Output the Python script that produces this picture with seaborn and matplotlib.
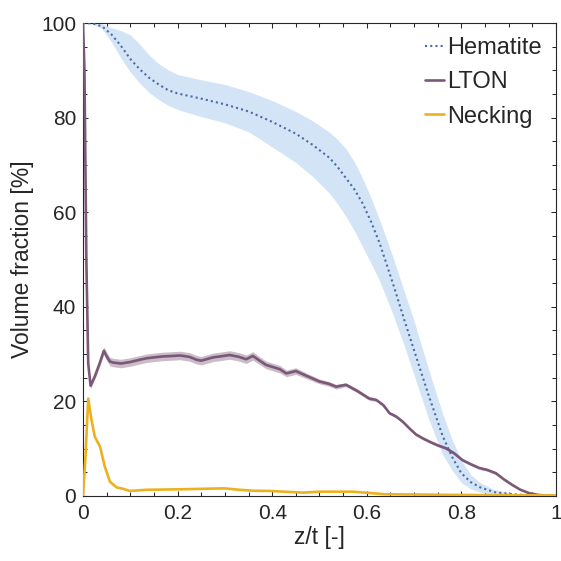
import numpy as np
import pandas as pd
import matplotlib
matplotlib.use("Agg")
import matplotlib.pyplot as plt
import seaborn as sns

# ---------------- data ----------------
hem_x = [0, 0.02, 0.04, 0.06, 0.08, 0.10, 0.12, 0.14, 0.16, 0.18, 0.20, 0.25, 0.30,
         0.35, 0.40, 0.45, 0.486, 0.521, 0.538, 0.556, 0.574, 0.591, 0.609, 0.627, 0.655,
         0.68, 0.70, 0.73, 0.76, 0.78, 0.80, 0.82, 0.84, 0.87, 0.91, 0.95, 1.0]
hem_mean = [100, 99.9, 99.3, 97.6, 95.2, 92.4, 90.2, 88.4, 87.0, 85.8, 85.1, 84.0, 82.8,
            81.3, 79.1, 76.6, 74.2, 71.5, 69.6, 67.2, 64.8, 61.9, 58.0, 53.5, 45.0,
            37.0, 30.8, 21.5, 12.8, 8.3, 4.8, 2.9, 1.8, 0.8, 0.35, 0.1, 0]
hem_upper = [100, 100, 99.8, 99.0, 98.4, 97.5, 95.5, 93.2, 91.4, 90.1, 89.1, 88.0, 87.0,
             85.5, 83.6, 81.3, 79.3, 76.9, 75.4, 73.4, 70.6, 67.2, 63.0, 58.4, 50.6,
             43.0, 37.0, 27.0, 17.5, 12.0, 7.5, 4.5, 2.8, 1.3, 0.5, 0.15, 0]
hem_lower = [100, 99.8, 98.8, 96.0, 92.6, 89.6, 87.3, 85.3, 83.8, 82.6, 81.7, 80.2, 78.9,
             77.0, 73.8, 70.5, 67.5, 64.0, 61.8, 59.1, 56.0, 52.7, 49.2, 45.5, 38.5,
             31.5, 25.5, 16.5, 8.8, 5.5, 2.8, 1.5, 0.8, 0.3, 0.15, 0.05, 0]

lton_x = [0, 0.003, 0.007, 0.011, 0.016, 0.025, 0.035, 0.044, 0.05, 0.057, 0.064, 0.08,
          0.099, 0.12, 0.134, 0.15, 0.169, 0.19, 0.205, 0.225, 0.24, 0.25, 0.275, 0.29,
          0.31, 0.33, 0.345, 0.359, 0.375, 0.387, 0.40, 0.416, 0.43, 0.45, 0.47, 0.50,
          0.52, 0.535, 0.556, 0.58, 0.605, 0.62, 0.635, 0.648, 0.662, 0.676, 0.69, 0.704,
          0.718, 0.732, 0.75, 0.767, 0.785, 0.802, 0.82, 0.838, 0.855, 0.873, 0.89, 0.908,
          0.925, 0.943, 0.96, 0.978, 1.0]
lton_mean = [100, 90, 50, 28, 23.3, 25.3, 28.0, 30.7, 29.5, 28.4, 28.2, 28.0,
             28.3, 28.8, 29.1, 29.3, 29.5, 29.6, 29.7, 29.4, 28.8, 28.6, 29.3, 29.5,
             29.8, 29.4, 28.9, 29.6, 28.5, 27.7, 27.3, 26.8, 25.9, 26.4, 25.5, 24.2,
             23.7, 23.1, 23.5, 22.2, 20.6, 20.3, 19.2, 17.5, 16.8, 15.7, 14.3, 13.0,
             12.2, 11.5, 10.7, 10.1, 9.0, 7.6, 6.7, 5.9, 5.5, 4.8, 3.5, 2.3,
             1.3, 0.6, 0.25, 0.07, 0]
lton_spread = [0, 0.5, 0.8, 0.8, 0.6, 0.6, 0.7, 0.8, 0.9, 0.9, 0.9, 0.9,
               0.9, 0.9, 0.9, 0.9, 0.9, 0.9, 0.9, 0.9, 0.9, 0.9, 0.9, 0.9,
               0.9, 0.9, 0.9, 0.9, 0.8, 0.8, 0.8, 0.8, 0.7, 0.7, 0.6, 0.5,
               0.5, 0.5, 0.4, 0.4, 0.4, 0.3, 0.3, 0.3, 0.3, 0.3, 0.3, 0.3,
               0.3, 0.3, 0.3, 0.3, 0.3, 0.3, 0.3, 0.3, 0.3, 0.3, 0.2, 0.2,
               0.1, 0.1, 0.05, 0.02, 0]

neck_x = [0, 0.005, 0.011, 0.018, 0.025, 0.036, 0.046, 0.057, 0.071, 0.085, 0.099,
          0.134, 0.17, 0.205, 0.25, 0.30, 0.33, 0.36, 0.395, 0.465, 0.50, 0.57, 0.64,
          0.70, 0.80, 0.90, 1.0]
neck_mean = [0, 8, 20.6, 16, 12.5, 10.4, 6.2, 3.0, 1.8, 1.5, 1.05,
             1.3, 1.35, 1.4, 1.5, 1.6, 1.3, 1.1, 1.05, 0.7, 0.9, 0.9, 0.35,
             0.3, 0.2, 0.15, 0.1]

series_names = ["Hematite", "LTON", "Necking"]
x_ticks = [0, 0.2, 0.4, 0.6, 0.8, 1]
x_tick_labels = ["0", "0.2", "0.4", "0.6", "0.8", "1"]
y_ticks = [0, 20, 40, 60, 80, 100]

# ---------------- style ----------------
sns.set_theme(style="white")
plt.rcParams["font.family"] = ["Liberation Sans", "DejaVu Sans"]
txt = "#262626"
plt.rcParams.update({
    "text.color": txt, "axes.labelcolor": txt,
    "xtick.color": txt, "ytick.color": txt,
    "axes.edgecolor": txt,
})

c_hem = "#4a6ba6"
c_hem_band = "#d4e4f7"
c_lton = "#7b5877"
c_neck = "#edb120"

fig = plt.figure(figsize=(5.61, 5.61), dpi=100)
ax = fig.add_axes([0.148, 0.116, 0.843, 0.843])

hem_df = pd.DataFrame({"x": hem_x, "y": hem_mean})
lton_df = pd.DataFrame({"x": lton_x, "y": lton_mean, "s": lton_spread})
neck_df = pd.DataFrame({"x": neck_x, "y": neck_mean})

ax.fill_between(hem_x, hem_lower, hem_upper, color=c_hem_band, lw=0, zorder=1)
ax.fill_between(lton_df["x"], lton_df["y"] - lton_df["s"], lton_df["y"] + lton_df["s"],
                color=c_lton, alpha=0.4, lw=0, zorder=2)

sns.lineplot(data=hem_df, x="x", y="y", ax=ax, color=c_hem, lw=1.5,
             linestyle=(0, (1, 1.5)), label=series_names[0], zorder=3)
sns.lineplot(data=lton_df, x="x", y="y", ax=ax, color=c_lton, lw=1.9,
             label=series_names[1], zorder=4)
sns.lineplot(data=neck_df, x="x", y="y", ax=ax, color=c_neck, lw=1.9,
             label=series_names[2], zorder=5)

ax.set_xlim(0, 1)
ax.set_ylim(0, 100)
ax.set_xticks(x_ticks)
ax.set_xticklabels(x_tick_labels)
ax.set_yticks(y_ticks)
ax.set_xticks(np.arange(0, 1.0001, 0.05), minor=True)
ax.set_yticks(np.arange(0, 100.001, 5), minor=True)
ax.tick_params(which="both", direction="in", top=True, right=True,
               bottom=True, left=True, width=0.75, labelsize=15)
ax.tick_params(axis="x", which="major", pad=6)
ax.tick_params(axis="y", which="major", pad=5)
ax.tick_params(which="major", length=3.8)
ax.tick_params(which="minor", length=2.6)
for sp in ax.spines.values():
    sp.set_linewidth(0.8)

ax.set_xlabel("z/t [-]", fontsize=16.5, labelpad=2)
ax.set_ylabel("Volume fraction [%]", fontsize=16.5, labelpad=5)

leg = ax.legend(loc="upper right", frameon=False, fontsize=17, handlelength=0.8,
                handletextpad=0.15, labelspacing=0.52, borderaxespad=0.2,
                bbox_to_anchor=(1.0, 1.0))

fig.savefig("out.png", dpi=100)
